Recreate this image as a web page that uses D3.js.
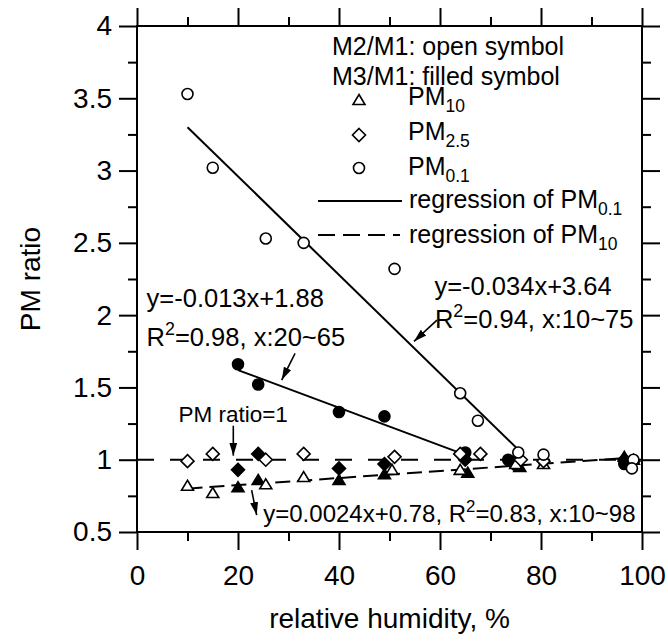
<!DOCTYPE html>
<html>
<head>
<meta charset="utf-8">
<script src="https://cdn.jsdelivr.net/npm/d3@7"></script>
<style>
	body { margin: 0; background: #fff; }
	svg { display: block; }
	text { font-family: 'Liberation Sans', Arial, sans-serif; fill: #000; }
</style>
</head>
<body>
<script>
// PM ratio against relative humidity
// [relative humidity %, ratio]
const pm10Open = [ [ 10, 0.82 ], [ 15, 0.77 ], [ 25.5, 0.83 ], [ 33, 0.88 ], [ 50.5, 0.93 ], [ 64, 0.93 ], [ 75, 0.97 ], [ 80.5, 0.97 ], [ 98.3, 1.0 ] ];
const pm25Open = [ [ 10, 0.99 ], [ 15, 1.04 ], [ 25.5, 1.0 ], [ 33, 1.04 ], [ 51, 1.02 ], [ 64, 1.04 ], [ 68, 1.04 ], [ 76, 1.0 ], [ 80.5, 0.99 ], [ 98.3, 0.99 ] ];
const pm01Open = [ [ 10, 3.53 ], [ 15, 3.02 ], [ 25.5, 2.53 ], [ 33, 2.5 ], [ 51, 2.32 ], [ 64, 1.46 ], [ 67.5, 1.27 ], [ 75.5, 1.05 ], [ 80.5, 1.035 ], [ 98.3, 1.0 ], [ 98, 0.94 ] ];
const pm10Filled = [ [ 20, 0.81 ], [ 24, 0.86 ], [ 40, 0.86 ], [ 49, 0.9 ], [ 65.5, 0.91 ], [ 75.8, 0.95 ], [ 96.5, 1.02 ] ];
const pm25Filled = [ [ 20, 0.93 ], [ 24, 1.04 ], [ 40, 0.94 ], [ 49, 0.97 ], [ 65, 1.0 ], [ 74.5, 0.975 ], [ 96.5, 1.0 ] ];
const pm01Filled = [ [ 20, 1.66 ], [ 24, 1.52 ], [ 40, 1.33 ], [ 49, 1.3 ], [ 65, 1.05 ], [ 73.5, 1.0 ], [ 74.5, 0.98 ], [ 75.5, 1.0 ], [ 96.5, 0.97 ] ];

// regression lines (end points) and the ratio = 1 reference
const regPM01Open = [ [ 10, 3.3 ], [ 75.2, 1.08 ] ];
const regPM01Filled = [ [ 20, 1.62 ], [ 64.5, 1.04 ] ];
const regPM10 = [ [ 10, 0.8 ], [ 98, 1.015 ] ];
const ratioOne = [ [ 0, 1 ], [ 100, 1 ] ];

const xTicks = [ 0, 20, 40, 60, 80, 100 ];
const xMinor = [ 10, 30, 50, 70, 90 ];
const yTicks = [ 0.5, 1, 1.5, 2, 2.5, 3, 3.5, 4 ];
const yMinor = [ 0.75, 1.25, 1.75, 2.25, 2.75, 3.25, 3.75 ];

const width = 668;
const height = 641;
const font = "'Liberation Sans', Arial, sans-serif";

const x = d3.scaleLinear().domain([ 0, 100 ]).range([ 137, 642 ]);
const y = d3.scaleLinear().domain([ 0.5, 4 ]).range([ 532, 26 ]);

const svg = d3.select('body').append('svg').attr('width', width).attr('height', height);

const defs = svg.append('defs');
defs
	.append('marker')
	.attr('id', 'head')
	.attr('markerUnits', 'userSpaceOnUse')
	.attr('markerWidth', 14)
	.attr('markerHeight', 10)
	.attr('viewBox', '0 -5 14 10')
	.attr('refX', 13)
	.attr('refY', 0)
	.attr('orient', 'auto')
	.append('path')
	.attr('d', 'M0,-4L13,0L0,4Z')
	.attr('fill', 'black');

/*
	axes, ticks outward on all four sides
*/
const addAxis = (axis, transform, labels) => {
	const g = svg.append('g').attr('transform', transform).call(axis);
	g.select('.domain').remove();
	g.selectAll('.tick line').attr('stroke', 'black').attr('stroke-width', 2);
	g.attr('font-family', font).attr('font-size', 28);
	g.selectAll('.tick text').attr('fill', 'black');
	if (!labels) g.selectAll('.tick text').remove();
};

const fmt = (d) => String(d);
addAxis(d3.axisBottom(x).tickValues(xTicks).tickSize(18).tickPadding(15).tickFormat(fmt), 'translate(0,532)', true);
addAxis(d3.axisBottom(x).tickValues(xMinor).tickSize(9), 'translate(0,532)', false);
addAxis(d3.axisTop(x).tickValues(xTicks).tickSize(18), 'translate(0,26)', false);
addAxis(d3.axisTop(x).tickValues(xMinor).tickSize(9), 'translate(0,26)', false);
addAxis(d3.axisLeft(y).tickValues(yTicks).tickSize(18).tickPadding(7).tickFormat(fmt), 'translate(137,0)', true);
addAxis(d3.axisLeft(y).tickValues(yMinor).tickSize(9), 'translate(137,0)', false);
addAxis(d3.axisRight(y).tickValues(yTicks).tickSize(18), 'translate(642,0)', false);
addAxis(d3.axisRight(y).tickValues(yMinor).tickSize(9), 'translate(642,0)', false);

svg
	.append('rect')
	.attr('x', x(0))
	.attr('y', y(4))
	.attr('width', x(100) - x(0))
	.attr('height', y(0.5) - y(4))
	.attr('fill', 'none')
	.attr('stroke', 'black')
	.attr('stroke-width', 2);

svg
	.append('text')
	.attr('x', (x(0) + x(100)) / 2)
	.attr('y', 628)
	.attr('text-anchor', 'middle')
	.style('font-size', '28px')
	.text('relative humidity, %');

svg
	.append('text')
	.attr('transform', `translate(40,${(y(0.5) + y(4)) / 2}) rotate(-90)`)
	.attr('text-anchor', 'middle')
	.style('font-size', '28px')
	.text('PM ratio');

/*
	lines
*/
const line = d3.line().x((d) => x(d[0])).y((d) => y(d[1]));
const gLines = svg.append('g');
gLines.append('path').attr('d', line(ratioOne)).attr('stroke-dasharray', '17,16');
gLines.append('path').attr('d', line(regPM10)).attr('stroke-dasharray', '15,7');
gLines.append('path').attr('d', line(regPM01Open));
gLines.append('path').attr('d', line(regPM01Filled));
gLines.selectAll('path').attr('fill', 'none').attr('stroke', 'black').attr('stroke-width', 2);

/*
	markers
*/
const shapes = {
	triangle: 'M0,-5.5L6,4.5L-6,4.5Z',
	diamond: 'M0,-6.5L6.5,0L0,6.5L-6.5,0Z',
	circle: d3.symbol(d3.symbolCircle, Math.PI * 5.5 * 5.5)()
};
const gMarks = svg.append('g');
const drawMarks = (data, shape, filled) => {
	gMarks
		.append('g')
		.selectAll('path')
		.data(data)
		.join('path')
		.attr('transform', (d) => `translate(${x(d[0])},${y(d[1])})`)
		.attr('d', shapes[shape])
		.attr('fill', filled ? 'black' : 'white')
		.attr('stroke', 'black')
		.attr('stroke-width', 1.6);
};
drawMarks(pm10Filled, 'triangle', true);
drawMarks(pm25Filled, 'diamond', true);
drawMarks(pm01Filled, 'circle', true);
drawMarks(pm10Open, 'triangle', false);
drawMarks(pm25Open, 'diamond', false);
drawMarks(pm01Open, 'circle', false);

/*
	rich text helper for sub / superscripts
*/
const richText = (px, py, size, parts) => {
	const t = svg.append('text').attr('x', px).attr('y', py).style('font-size', size + 'px');
	let shift = 0;
	parts.forEach(([ s, kind ]) => {
		const want = kind === 'sub' ? size * 0.28 : kind === 'sup' ? -size * 0.42 : 0;
		const span = t.append('tspan').attr('dy', want - shift).text(s);
		if (kind) span.style('font-size', size * 0.7 + 'px');
		shift = want;
	});
	return t;
};

/*
	legend
*/
const legendX = 359;
svg.append('text').attr('x', 332).attr('y', 55).style('font-size', '25px').text('M2/M1: open symbol');
svg.append('text').attr('x', 332).attr('y', 85).style('font-size', '25px').text('M3/M1: filled symbol');
[ [ 'triangle', 100, '10', 105 ], [ 'diamond', 135, '2.5', 140 ], [ 'circle', 168, '0.1', 175 ] ].forEach(([ shape, my, sub, ty ]) => {
	svg
		.append('path')
		.attr('transform', `translate(${legendX},${my})`)
		.attr('d', shapes[shape])
		.attr('fill', 'white')
		.attr('stroke', 'black')
		.attr('stroke-width', 1.6);
	richText(408, ty, 25, [ [ 'PM' ], [ sub, 'sub' ] ]);
});
svg.append('line').attr('x1', 318).attr('x2', 402).attr('y1', 201).attr('y2', 201).attr('stroke', 'black').attr('stroke-width', 2);
richText(409, 208, 25, [ [ 'regression of PM' ], [ '0.1', 'sub' ] ]);
svg
	.append('line')
	.attr('x1', 318)
	.attr('x2', 400)
	.attr('y1', 235)
	.attr('y2', 235)
	.attr('stroke', 'black')
	.attr('stroke-width', 2)
	.attr('stroke-dasharray', '17,8');
richText(409, 243, 25, [ [ 'regression of PM' ], [ '10', 'sub' ] ]);

/*
	annotations
*/
richText(x(1.9), y(2.055), 25.5, [ [ 'y=-0.013x+1.88' ] ]);
richText(x(1.9), y(1.79), 25.5, [ [ 'R' ], [ '2', 'sup' ], [ '=0.98, x:20~65' ] ]);
richText(x(58.9), y(2.14), 25.5, [ [ 'y=-0.034x+3.64' ] ]);
richText(x(59), y(1.91), 25.5, [ [ 'R' ], [ '2', 'sup' ], [ '=0.94, x:10~75' ] ]);
richText(x(8.2), y(1.263), 22.5, [ [ 'PM ratio=1' ] ]);
richText(x(25), y(0.571), 24, [ [ 'y=0.0024x+0.78, R' ], [ '2', 'sup' ], [ '=0.83, x:10~98' ] ]);

const arrows = [
	[ [ 31.3, 1.736 ], [ 28.65, 1.551 ] ],
	[ [ 59.4, 1.966 ], [ 54.85, 1.818 ] ],
	[ [ 19.07, 1.235 ], [ 19.07, 1.028 ] ],
	[ [ 22.7, 0.79 ], [ 23.7, 0.617 ] ]
];
arrows.forEach((a) => {
	svg
		.append('path')
		.attr('d', line(a))
		.attr('fill', 'none')
		.attr('stroke', 'black')
		.attr('stroke-width', 1.6)
		.attr('marker-end', 'url(#head)');
});
</script>
</body>
</html>
